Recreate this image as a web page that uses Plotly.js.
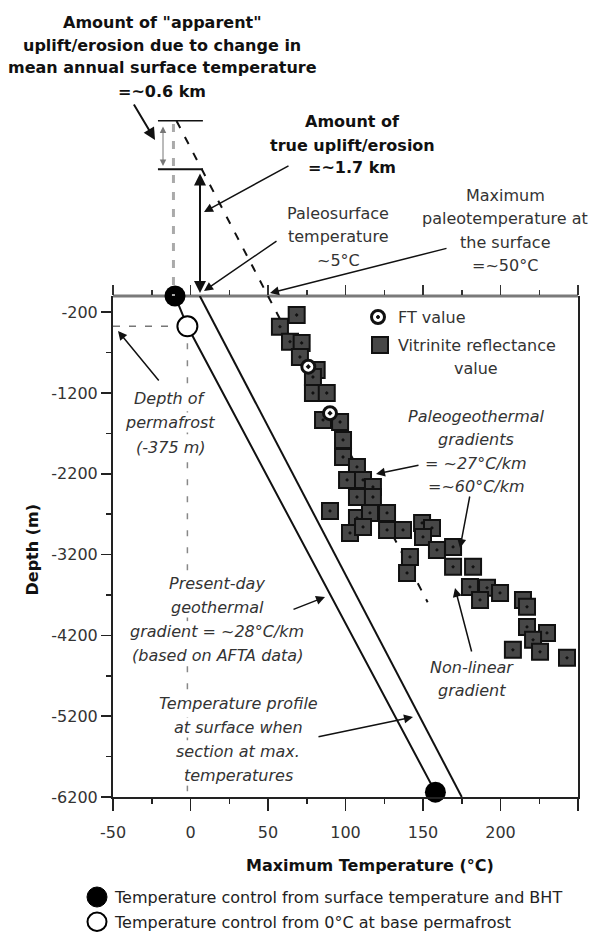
<!DOCTYPE html>
<html>
<head>
<meta charset="utf-8">
<script src="https://cdn.plot.ly/plotly-3.0.1.min.js"></script>
<style>html,body{margin:0;padding:0;background:#fff}#chart{width:593px;height:932px}</style>
</head>
<body>
<div id="chart"></div>
<script>
// ---------------- data ----------------
const xTickVals = [-50, 0, 50, 100, 150, 200, 250];
const xTickText = ['-50', '0', '50', '100', '150', '200', '250'];
const yTickVals = [-200, -1200, -2200, -3200, -4200, -5200, -6200];
const yTickText = ['-200', '-1200', '-2200', '-3200', '-4200', '-5200', '-6200'];

// Vitrinite reflectance values (max temperature °C, depth m)
const vitriniteT = [68.5, 57.7, 64.2, 71.7, 70.6, 81.4, 79, 79, 87.9, 85.5, 96.5, 98.4, 98.4, 107.4, 101, 111.3, 117.7, 107.4, 117.7, 90, 107.4, 115.8, 126.8, 102.9, 111.3, 126.8, 137.1, 149.4, 155.8, 150, 141.6, 159, 169.4, 139.7, 169.4, 182.3, 180.3, 191.3, 186.8, 199.7, 214.5, 217.1, 217.1, 230, 221, 208, 225.5, 242.9];
const vitriniteDepth = [-235, -380, -565, -581, -755, -915, -1002, -1200, -1200, -1534, -1559, -1781, -1992, -2115, -2276, -2276, -2363, -2487, -2487, -2660, -2746, -2684, -2684, -2932, -2858, -2895, -2895, -2808, -2870, -2981, -3229, -3142, -3105, -3427, -3352, -3352, -3600, -3612, -3761, -3674, -3761, -3847, -4095, -4169, -4255, -4379, -4404, -4478];

// Fission track values
const ftT = [76, 90];
const ftDepth = [-875, -1450];

// Temperature control from surface temperature and BHT
const bhtT = [-10, 158];
const bhtDepth = [0, -6140];
// Temperature control from 0°C at base permafrost
const permT = [-2];
const permDepth = [-375];

// Present-day geothermal gradient (~28°C/km)
const presentT = [-10, -2, 158];
const presentDepth = [0, -375, -6140];
// Temperature profile when section at max. temperatures
const maxProfileT = [6, 175];
const maxProfileDepth = [0, -6200];
// Paleogeothermal gradient (~27°C/km), extended above the present surface
const paleoT = [-9, 50, 153];
const paleoDepth = [2166, 0, -3790];
// Uplift levels above present surface (m)
const apparentTop = 2170;
const trueTop = 1570;

// ---------------- geometry helpers ----------------
const W = 593, H = 932, ML = 113, MR = 15, MT = 296, MB = 135;
const PW = W - ML - MR, PH = H - MT - MB;
const X0 = -50, X1 = 250, Y0 = -6200, Y1 = 0;
const px = x => (x - ML) / PW;          // figure pixel -> paper
const py = y => (MT + PH - y) / PH;
const tx = T => (T - X0) / (X1 - X0);   // data -> paper
const ty = D => (D - Y0) / (Y1 - Y0);
const FONT = 'DejaVu Sans';

const annotations = [];
function block(lines, cx, y0, dy, opts) {
  opts = opts || {};
  lines.forEach((t, i) => {
    let txt = t;
    if (opts.bold) txt = '<b>' + txt + '</b>';
    if (opts.italic) txt = '<i>' + txt + '</i>';
    annotations.push(Object.assign({
      xref: 'paper', yref: 'paper', x: px(cx), y: py(y0 + i * dy),
      xanchor: opts.anchor || 'center', yanchor: 'middle', showarrow: false,
      text: txt, borderpad: 0,
      font: {family: FONT, size: opts.size || 16, color: opts.color || (opts.bold ? '#111' : '#333')}
    }, opts.bg ? {bgcolor: '#fff'} : {}));
  });
}
function arrow(x1, y1, x2, y2, o) {
  o = o || {};
  annotations.push({
    xref: 'paper', yref: 'paper', x: px(x2), y: py(y2),
    axref: 'pixel', ayref: 'pixel', ax: x1 - x2, ay: y1 - y2,
    text: '', showarrow: true, arrowhead: 2, arrowsize: o.size || 1.2,
    arrowwidth: o.width || 1.5, arrowcolor: o.color || '#111',
    arrowside: o.both ? 'end+start' : 'end', standoff: 0, startstandoff: 0
  });
}

// ---------------- texts ----------------
block(['Amount of "apparent"', 'uplift/erosion due to change in', 'mean annual surface temperature', '=~0.6 km'], 162, 22, 23, {bold: true});
block(['Amount of', 'true uplift/erosion', '=~1.7 km'], 352, 122, 23, {bold: true});
block(['Paleosurface', 'temperature', '~5°C'], 338, 213, 23.5);
block(['Maximum', 'paleotemperature at', 'the surface', '=~50°C'], 505, 195, 23.5);
block(['FT value'], 397, 317, 0, {anchor: 'left'});
block(['Vitrinite reflectance'], 397, 345, 0, {anchor: 'left'});
block(['value'], 476, 368, 0);
block(['Depth of', 'permafrost', '(-375 m)'], 170, 398, 24.5, {italic: true, bg: true});
block(['Paleogeothermal', 'gradients', '= ~27°C/km', '=~60°C/km'], 476, 416, 23.5, {italic: true});
block(['Present-day', 'geothermal', 'gradient = ~28°C/km', '(based on AFTA data)'], 217, 583, 24, {italic: true, bg: true});
block(['Non-linear', 'gradient'], 472, 667, 23, {italic: true});
block(['Temperature profile', 'at surface when', 'section at max.', 'temperatures'], 238, 703, 24, {italic: true, bg: true});
block(['Maximum Temperature (°C)'], 370, 865, 0, {bold: true});
block(['Temperature control from surface temperature and BHT'], 113, 897, 0, {anchor: 'left', color: '#222'});
block(['Temperature control from 0°C at base permafrost'], 113, 922, 0, {anchor: 'left', color: '#222'});
annotations.push({xref: 'paper', yref: 'paper', x: px(20), y: py(550), textangle: -90,
  text: '<b>Depth (m)</b>', showarrow: false, font: {family: FONT, size: 16, color: '#111'}});

// ---------------- arrows ----------------
arrow(133, 103, 155, 140, {width: 2});
arrow(163, 125, 163, 166, {both: true, width: 1, color: '#777', size: 1.3});
arrow(200, 172, 200, 293, {both: true, width: 2});
arrow(290, 165, 204, 212);
arrow(278, 240, 204, 291);
arrow(448, 248, 270, 293);
arrow(160, 382, 118, 331);
arrow(292, 610, 325, 597);
arrow(317, 737, 413, 717);
arrow(420, 465, 376, 474);
arrow(470, 495, 460, 548);
arrow(472, 653, 455, 588);

// ---------------- shapes ----------------
const shapes = [
  // paleosurface / present surface line (top border)
  {type: 'line', xref: 'paper', yref: 'paper', x0: 0, x1: 1, y0: 1, y1: 1, line: {color: '#7a7a7a', width: 3}, layer: 'below'},
  // uplift levels above the surface
  {type: 'line', xref: 'paper', yref: 'paper', x0: tx(-21), x1: tx(8), y0: ty(apparentTop), y1: ty(apparentTop), line: {color: '#111', width: 1.5}},
  {type: 'line', xref: 'paper', yref: 'paper', x0: tx(-21), x1: tx(8), y0: ty(trueTop), y1: ty(trueTop), line: {color: '#111', width: 2}},
  // extension of surface temperature point upward
  {type: 'line', xref: 'paper', yref: 'paper', x0: tx(-11), x1: tx(-11), y0: ty(apparentTop - 40), y1: ty(0), line: {color: '#aaa', width: 3, dash: '8px,9px'}},
  // paleogeothermal gradient extended above the surface
  {type: 'line', xref: 'paper', yref: 'paper', x0: tx(paleoT[0]), x1: tx(paleoT[1]), y0: ty(paleoDepth[0]), y1: ty(paleoDepth[1]), line: {color: '#111', width: 2, dash: '8px,10px'}},
  // in-plot legend glyphs
  {type: 'circle', xref: 'paper', yref: 'paper', x0: px(371.5), x1: px(384.5), y0: py(323.5), y1: py(310.5), fillcolor: '#fff', line: {color: '#111', width: 3}},
  {type: 'circle', xref: 'paper', yref: 'paper', x0: px(376.5), x1: px(379.5), y0: py(318.5), y1: py(315.5), fillcolor: '#111', line: {color: '#111', width: 1}},
  {type: 'rect', xref: 'paper', yref: 'paper', x0: px(372), x1: px(388), y0: py(353), y1: py(337), fillcolor: '#474747', line: {color: '#111', width: 2}},
  // bottom legend glyphs
  {type: 'circle', xref: 'paper', yref: 'paper', x0: px(87), x1: px(107), y0: py(907), y1: py(887), fillcolor: '#000', line: {color: '#000', width: 1}},
  {type: 'circle', xref: 'paper', yref: 'paper', x0: px(87.5), x1: px(106.5), y0: py(931), y1: py(912.5), fillcolor: '#fff', line: {color: '#000', width: 2}}
];

// ---------------- traces ----------------
const traces = [
  // carrier for the top tick axis (draws nothing)
  {x: [X0, X1], y: [Y0, Y0], xaxis: 'x2', yaxis: 'y', mode: 'lines', line: {width: 0, color: 'rgba(0,0,0,0)'}, hoverinfo: 'skip', showlegend: false},
  {x: [X0, permT[0]], y: [permDepth[0], permDepth[0]], mode: 'lines', line: {color: '#777', width: 1.5, dash: '7px,9px'}, hoverinfo: 'skip'},
  {x: [permT[0], permT[0]], y: [permDepth[0], Y0], mode: 'lines', line: {color: '#888', width: 1.5, dash: '6px,11px'}, hoverinfo: 'skip'},
  {x: paleoT.slice(1), y: paleoDepth.slice(1), mode: 'lines', line: {color: '#111', width: 2, dash: '8px,10px'}, name: 'Paleogeothermal gradient'},
  {x: presentT, y: presentDepth, mode: 'lines', line: {color: '#111', width: 2}, name: 'Present-day geothermal gradient'},
  {x: maxProfileT, y: maxProfileDepth, mode: 'lines', line: {color: '#111', width: 2}, name: 'Temperature profile at max. temperatures'},
  {x: vitriniteT, y: vitriniteDepth, mode: 'markers', name: 'Vitrinite reflectance value',
   marker: {symbol: 'square-dot', size: 16, color: '#474747', line: {color: '#111', width: 2}}},
  {x: ftT, y: ftDepth, mode: 'markers', name: 'FT value',
   marker: {symbol: 'circle-dot', size: 13, color: '#fff', line: {color: '#111', width: 3}}},
  {x: bhtT, y: bhtDepth, mode: 'markers', cliponaxis: false, name: 'Temperature control from surface temperature and BHT',
   marker: {symbol: 'circle', size: 21, color: '#000'}},
  {x: permT, y: permDepth, mode: 'markers', cliponaxis: false, name: 'Temperature control from 0°C at base permafrost',
   marker: {symbol: 'circle', size: 20, color: '#fff', line: {color: '#000', width: 2}}}
];

const tickFont = {family: FONT, size: 16, color: '#333'};
const layout = {
  width: W, height: H,
  margin: {l: ML, r: MR, t: MT, b: MB},
  paper_bgcolor: '#fff', plot_bgcolor: '#fff',
  showlegend: false,
  font: {family: FONT},
  xaxis: {
    range: [X0, X1], tickmode: 'array', tickvals: xTickVals, ticktext: xTickText,
    ticks: 'outside', ticklen: 12, tickwidth: 1.5, tickcolor: '#222', tickfont: tickFont,
    ticklabelstandoff: 8,
    showline: true, linecolor: '#222', linewidth: 2, showgrid: false, zeroline: false,
    minor: {tickmode: 'linear', tick0: -25, dtick: 50, ticks: 'outside', ticklen: 5, tickwidth: 1.5, tickcolor: '#222', showgrid: false},
    fixedrange: true
  },
  xaxis2: {
    overlaying: 'x', side: 'top', anchor: 'y',
    range: [X0, X1], tickmode: 'array', tickvals: xTickVals, ticktext: xTickText,
    ticks: 'outside', ticklen: 10, tickwidth: 1.5, tickcolor: '#333', showticklabels: false,
    showline: false, showgrid: false, zeroline: false,
    minor: {tickmode: 'linear', tick0: -25, dtick: 50, ticks: 'outside', ticklen: 5, tickwidth: 1.5, tickcolor: '#333', showgrid: false},
    fixedrange: true
  },
  yaxis: {
    range: [Y0, Y1], tickmode: 'array', tickvals: yTickVals, ticktext: yTickText,
    ticks: 'outside', ticklen: 10, tickwidth: 1.5, tickcolor: '#222', tickfont: tickFont,
    showline: true, linecolor: '#222', linewidth: 2, mirror: true, showgrid: false, zeroline: false,
    minor: {tickmode: 'linear', tick0: -700, dtick: 1000, ticks: 'outside', ticklen: 5, tickwidth: 1.5, tickcolor: '#222', showgrid: false},
    fixedrange: true
  },
  annotations: annotations,
  shapes: shapes
};

Plotly.newPlot('chart', traces, layout, {displayModeBar: false, staticPlot: true});
</script>
</body>
</html>
